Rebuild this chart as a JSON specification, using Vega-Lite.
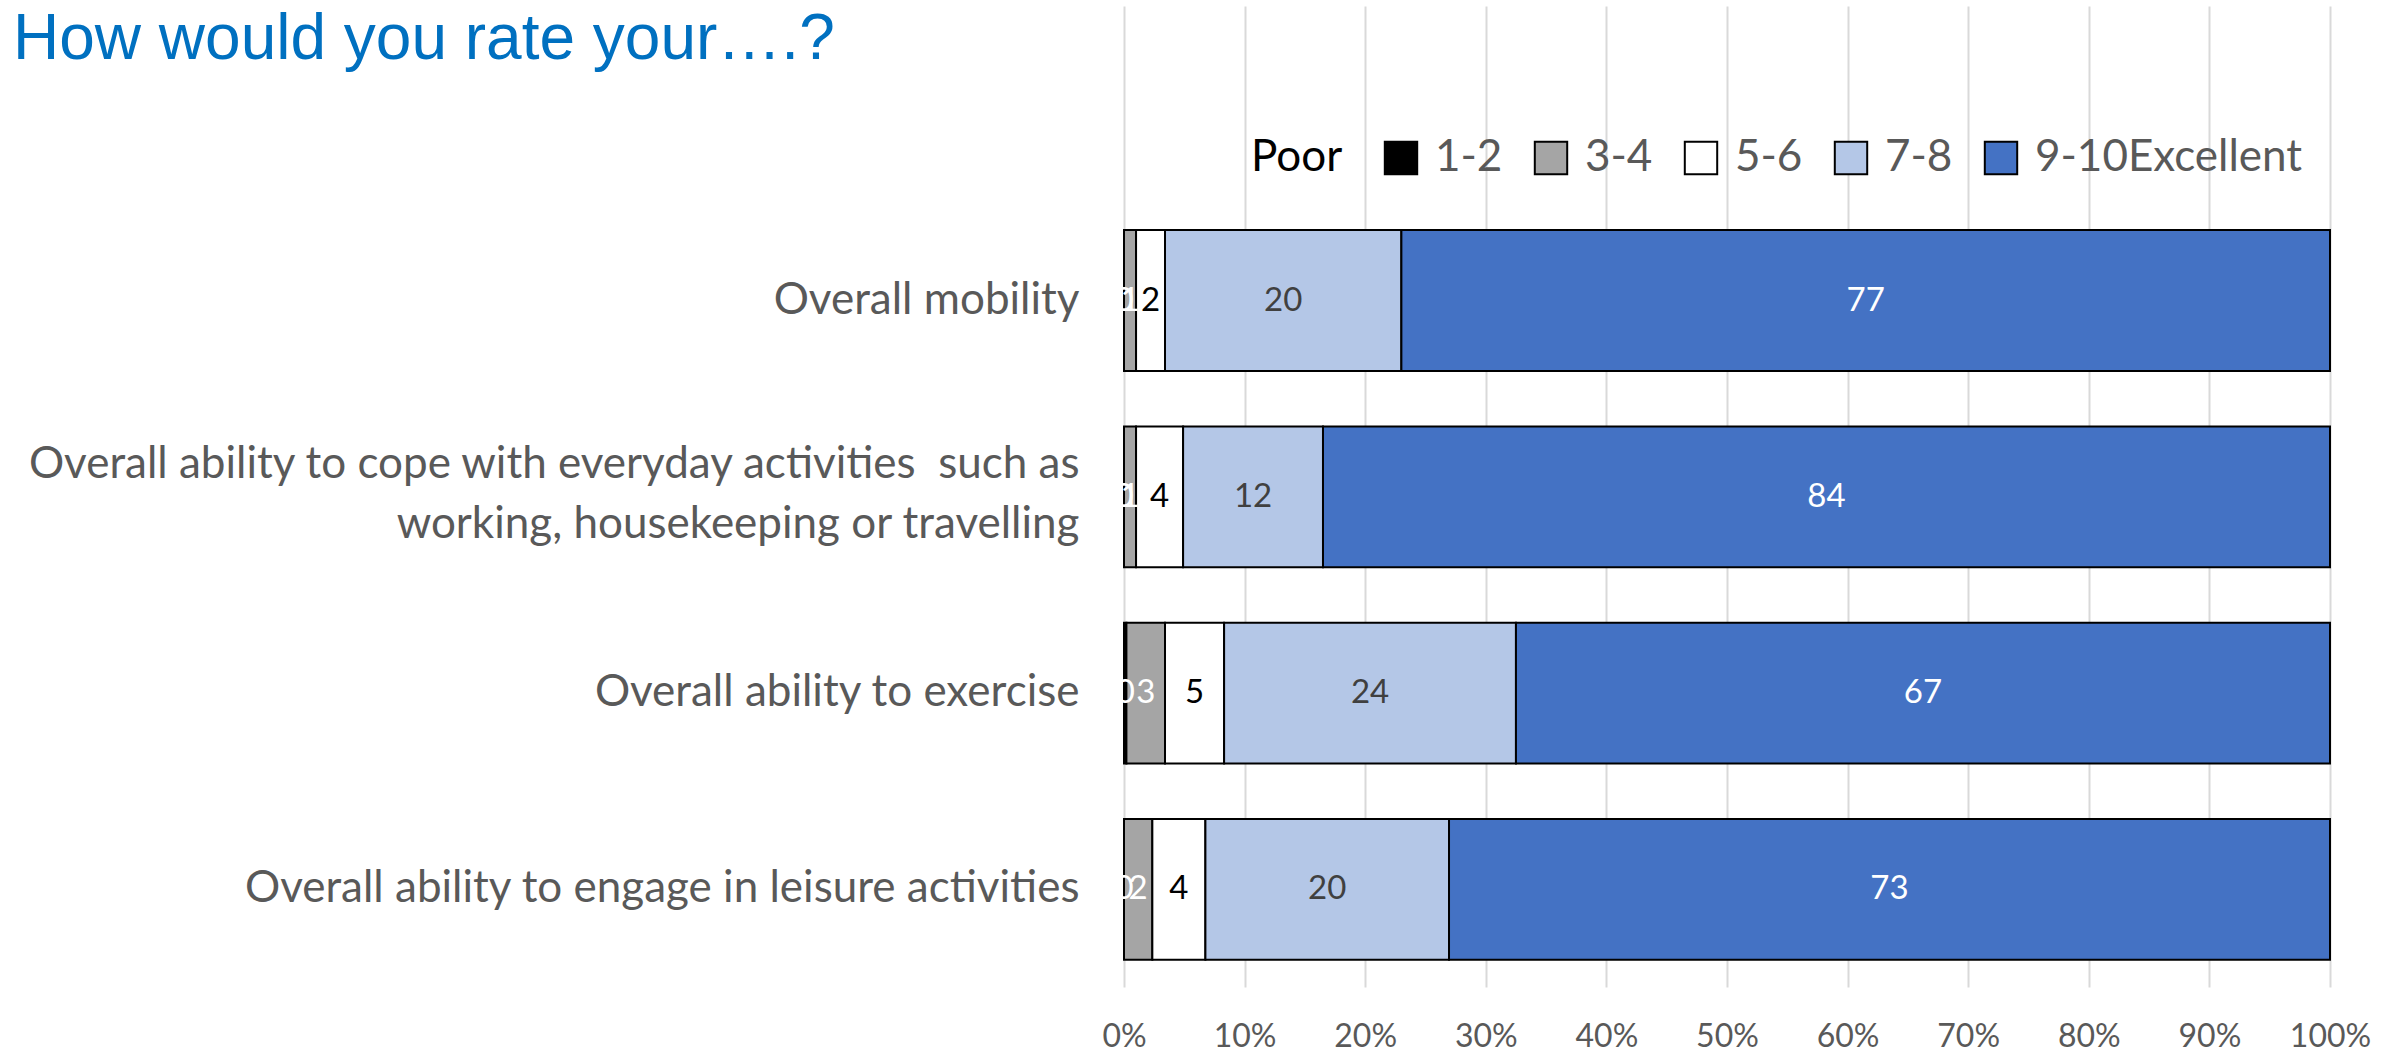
{
  "$schema": "https://vega.github.io/schema/vega-lite/v6.json",
  "autosize": {"type": "none"},
  "width": 1206,
  "height": 981,
  "padding": {"left": 1124, "top": 6, "right": 71, "bottom": 65},
  "background": "white",
  "config": {"view": {"stroke": null}, "font": "Lato"},
  "title": {
    "text": "How would you rate your….?",
    "anchor": "start",
    "frame": "group",
    "orient": "top",
    "offset": 0,
    "dx": -1111,
    "dy": 117,
    "baseline": "alphabetic",
    "font": "Liberation Sans",
    "fontSize": 64,
    "fontWeight": "normal",
    "color": "#0070C0"
  },
  "data": {
    "values": [
      {"item": "Overall mobility", "cat": "1-2", "rank": 1, "value": 0, "label": 0},
      {"item": "Overall mobility", "cat": "3-4", "rank": 2, "value": 1.0, "label": 1},
      {"item": "Overall mobility", "cat": "5-6", "rank": 3, "value": 2.4, "label": 2},
      {"item": "Overall mobility", "cat": "7-8", "rank": 4, "value": 19.6, "label": 20},
      {"item": "Overall mobility", "cat": "9-10", "rank": 5, "value": 77.0, "label": 77},
      {"item": "Overall ability to cope with everyday activities  such as\nworking, housekeeping or travelling", "cat": "1-2", "rank": 1, "value": 0, "label": 0},
      {"item": "Overall ability to cope with everyday activities  such as\nworking, housekeeping or travelling", "cat": "3-4", "rank": 2, "value": 1.0, "label": 1},
      {"item": "Overall ability to cope with everyday activities  such as\nworking, housekeeping or travelling", "cat": "5-6", "rank": 3, "value": 3.9, "label": 4},
      {"item": "Overall ability to cope with everyday activities  such as\nworking, housekeeping or travelling", "cat": "7-8", "rank": 4, "value": 11.6, "label": 12},
      {"item": "Overall ability to cope with everyday activities  such as\nworking, housekeeping or travelling", "cat": "9-10", "rank": 5, "value": 83.5, "label": 84},
      {"item": "Overall ability to exercise", "cat": "1-2", "rank": 1, "value": 0.2, "label": 0},
      {"item": "Overall ability to exercise", "cat": "3-4", "rank": 2, "value": 3.2, "label": 3},
      {"item": "Overall ability to exercise", "cat": "5-6", "rank": 3, "value": 4.9, "label": 5},
      {"item": "Overall ability to exercise", "cat": "7-8", "rank": 4, "value": 24.2, "label": 24},
      {"item": "Overall ability to exercise", "cat": "9-10", "rank": 5, "value": 67.5, "label": 67},
      {"item": "Overall ability to engage in leisure activities", "cat": "1-2", "rank": 1, "value": 0, "label": 0},
      {"item": "Overall ability to engage in leisure activities", "cat": "3-4", "rank": 2, "value": 2.35, "label": 2},
      {"item": "Overall ability to engage in leisure activities", "cat": "5-6", "rank": 3, "value": 4.4, "label": 4},
      {"item": "Overall ability to engage in leisure activities", "cat": "7-8", "rank": 4, "value": 20.2, "label": 20},
      {"item": "Overall ability to engage in leisure activities", "cat": "9-10", "rank": 5, "value": 73.05, "label": 73}
    ]
  },
  "encoding": {
    "y": {
      "field": "item",
      "type": "nominal",
      "sort": null,
      "title": null,
      "scale": {"paddingInner": 0.282, "paddingOuter": 0.64, "align": 0.892},
      "axis": {
        "domain": false,
        "ticks": false,
        "labelPadding": 45,
        "labelFontSize": 44,
        "labelColor": "#595959",
        "labelFont": "Lato",
        "labelLimit": 1200,
        "labelLineHeight": 60,
        "labelOffset": {"condition": {"test": "indexof(datum.label, '\\n') >= 0", "value": -32}, "value": 0},
        "labelExpr": "split(replace(datum.label, '  ', ' \u00a0'), '\\n')"
      }
    }
  },
  "resolve": {"scale": {"color": "independent"}},
  "layer": [
    {
      "mark": {"type": "bar", "stroke": "black", "strokeWidth": 2},
      "encoding": {
        "x": {
          "field": "value",
          "type": "quantitative",
          "stack": "normalize",
          "title": null,
          "scale": {"domain": [0, 1], "nice": false},
          "axis": {
            "values": [0, 0.1, 0.2, 0.3, 0.4, 0.5, 0.6, 0.7, 0.8, 0.9, 1],
            "format": ".0%",
            "domain": false,
            "ticks": false,
            "grid": true,
            "gridColor": "#D9D9D9",
            "gridWidth": 2,
            "labelFontSize": 32,
            "labelColor": "#595959",
            "labelPadding": 34,
            "labelFlush": false,
            "labelOverlap": false
          }
        },
        "order": {"field": "rank", "type": "quantitative"},
        "color": {
          "field": "cat",
          "type": "nominal",
          "scale": {
            "domain": ["1-2", "3-4", "5-6", "7-8", "9-10"],
            "range": ["#000000", "#A5A5A5", "#FFFFFF", "#B4C7E7", "#4472C4"]
          },
          "legend": {
            "orient": "none",
            "direction": "horizontal",
            "legendX": 127,
            "legendY": 130,
            "title": "Poor",
            "titleOrient": "left",
            "titleFont": "Lato",
            "titleFontSize": 44,
            "titleFontWeight": "normal",
            "titleColor": "#000000",
            "titlePadding": 36,
            "titleBaseline": "middle",
            "symbolType": "square",
            "symbolSize": 1050,
            "symbolStrokeColor": "#000000",
            "symbolStrokeWidth": 2,
            "symbolOpacity": 1,
            "labelFont": "Lato",
            "labelFontSize": 44,
            "labelColor": "#595959",
            "labelOffset": 12,
            "labelLimit": 600,
            "columnPadding": 26,
            "labelExpr": "datum.label == '9-10' ? '9-10Excellent' : datum.label"
          }
        }
      }
    },
    {
      "mark": {"type": "text", "fontSize": 33, "font": "Lato", "baseline": "middle", "align": "center"},
      "encoding": {
        "x": {"field": "value", "type": "quantitative", "stack": "normalize", "bandPosition": 0.5},
        "order": {"field": "rank", "type": "quantitative"},
        "text": {"field": "label", "type": "quantitative"},
        "color": {
          "field": "cat",
          "type": "nominal",
          "scale": {
            "domain": ["1-2", "3-4", "5-6", "7-8", "9-10"],
            "range": ["#FFFFFF", "#FFFFFF", "#000000", "#404040", "#FFFFFF"]
          },
          "legend": null
        }
      }
    }
  ]
}
